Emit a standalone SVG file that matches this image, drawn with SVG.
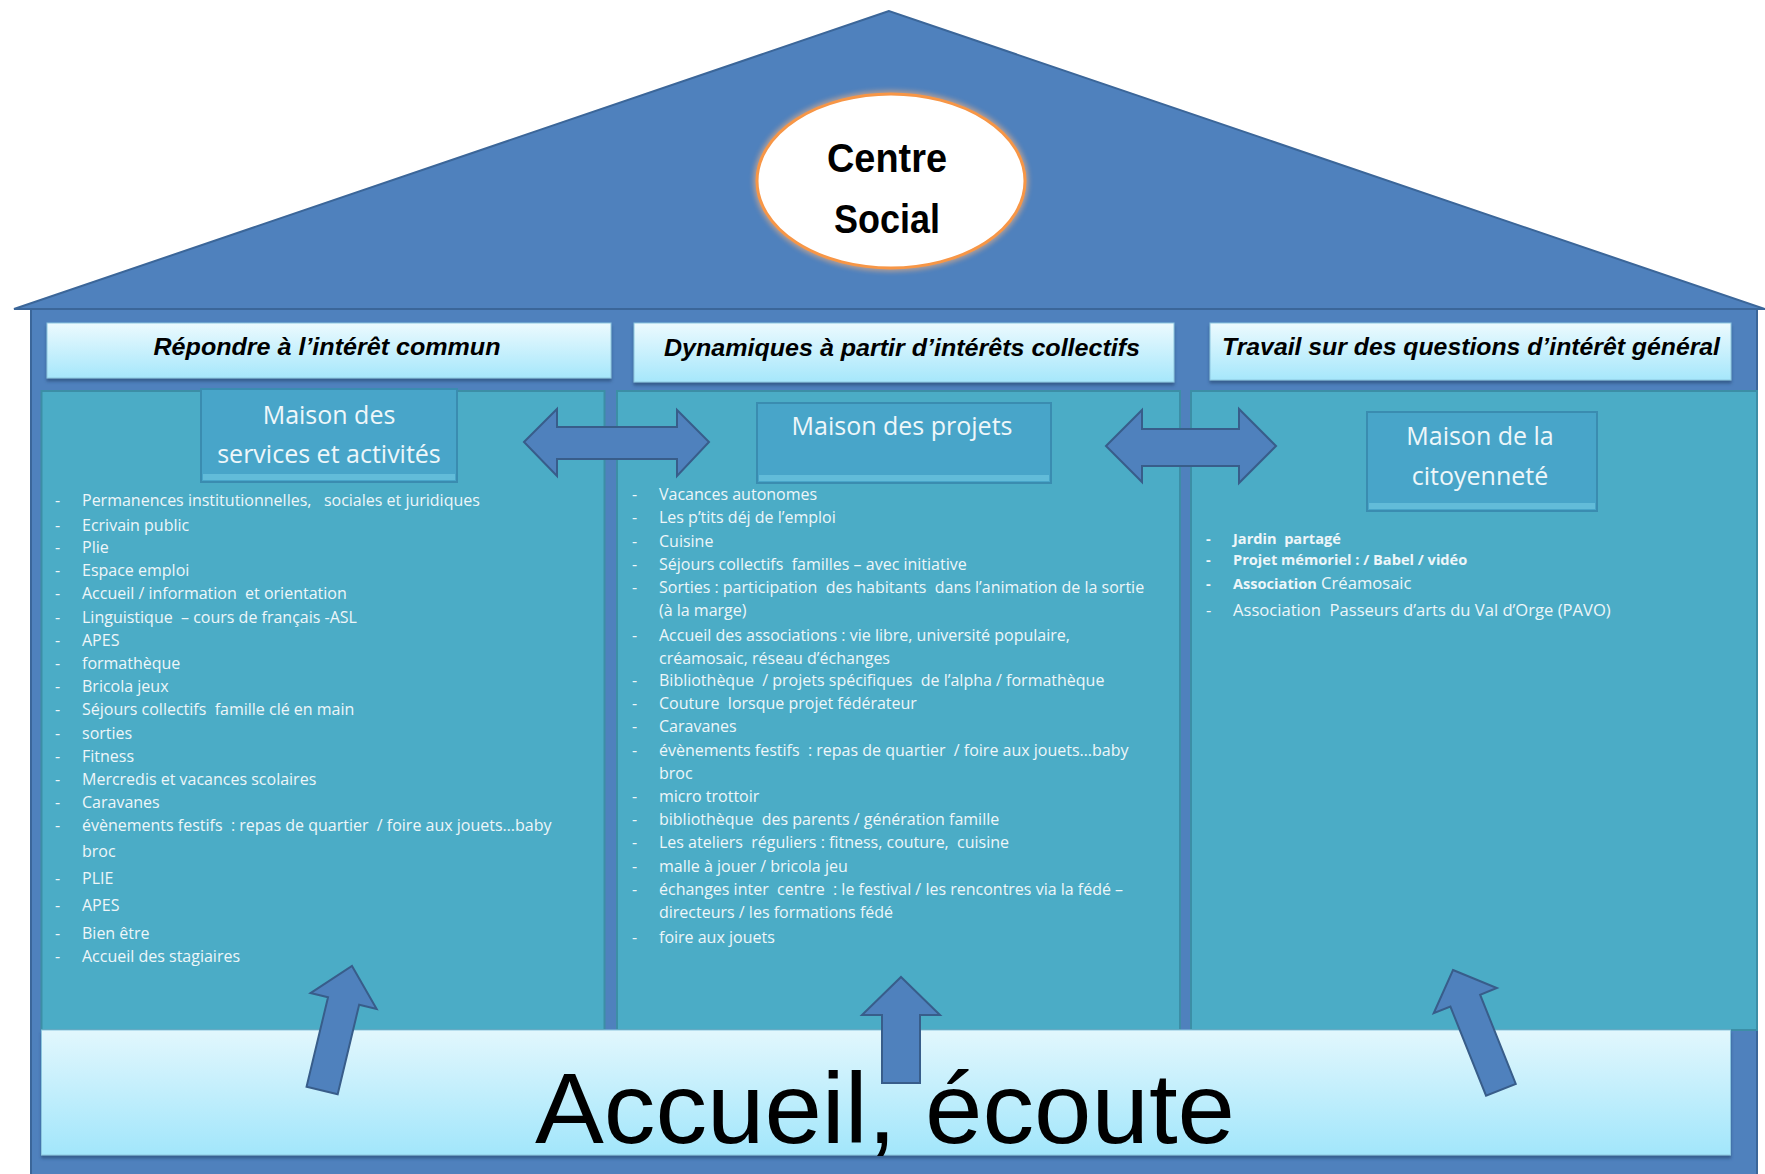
<svg xmlns="http://www.w3.org/2000/svg" width="1765" height="1174" viewBox="0 0 1765 1174">
<defs>
<linearGradient id="hdrGrad" x1="0" y1="0" x2="0" y2="1">
<stop offset="0" stop-color="#ecfafe"/>
<stop offset="1" stop-color="#a6e7fb"/>
</linearGradient>
<linearGradient id="botGrad" x1="0" y1="0" x2="0" y2="1">
<stop offset="0" stop-color="#e2f7fd"/>
<stop offset="1" stop-color="#a2e6fb"/>
</linearGradient>
<filter id="shadow" x="-5%" y="-20%" width="110%" height="150%">
<feDropShadow dx="0" dy="3" stdDeviation="1.5" flood-color="#2b4d78" flood-opacity="0.7"/>
</filter>
<filter id="glow" x="-20%" y="-20%" width="140%" height="140%">
<feGaussianBlur stdDeviation="2.5"/>
</filter>
</defs>
<style>
.blue{fill:#4F81BD;stroke:#3b6699;stroke-width:2}
.panel{fill:#4BACC6;stroke:#3c8ea6;stroke-width:2}
.hdr{fill:url(#hdrGrad);stroke:#8cc6df;stroke-width:1}
.maison{fill:#48a5c9;stroke:#3a8cb0;stroke-width:2}
.bevel{fill:#62bcd9}
.htxt{font-family:"Liberation Sans",Arial,sans-serif;font-weight:bold;font-style:italic;font-size:24px;fill:#000;text-anchor:middle}
.mtxt{font-family:"Open Sans","Noto Sans",sans-serif;font-size:25px;fill:#eef7fa;text-anchor:middle}
.li{font-family:"Open Sans","Noto Sans",sans-serif;font-size:16px;fill:#eef6f9}
.li2{font-family:"Open Sans","Noto Sans",sans-serif;font-size:16.6px;fill:#eef6f9}
.lb{font-family:"Open Sans","Noto Sans",sans-serif;font-size:14.6px;font-weight:bold;fill:#eef6f9}
.arrow{fill:#4F81BD;stroke:#385d8a;stroke-width:2;stroke-linejoin:miter}
</style>

<g id="house">
<polygon class="blue" points="889,11 14,309 1765,309"/>
<rect class="blue" x="31" y="309" width="1726" height="870"/>
</g>

<g id="centre-social">
<ellipse cx="891" cy="181" rx="134" ry="87" fill="none" stroke="#f9b47e" stroke-width="7" opacity="0.6" filter="url(#glow)"/>
<ellipse cx="891" cy="181" rx="134" ry="87" fill="#ffffff" stroke="#F79646" stroke-width="3"/>
<text x="887" y="172" font-family="Liberation Sans,Arial,sans-serif" font-weight="bold" font-size="40" text-anchor="middle" fill="#000" textLength="120" lengthAdjust="spacingAndGlyphs">Centre</text>
<text x="887" y="233" font-family="Liberation Sans,Arial,sans-serif" font-weight="bold" font-size="40" text-anchor="middle" fill="#000" textLength="106" lengthAdjust="spacingAndGlyphs">Social</text>
</g>

<g id="header-1">
<rect class="hdr" x="47" y="323" width="564" height="55" filter="url(#shadow)"/>
<text class="htxt" x="327" y="355" textLength="347" lengthAdjust="spacingAndGlyphs">Répondre à l’intérêt commun</text>
</g>
<g id="header-2">
<rect class="hdr" x="634" y="323" width="540" height="59" filter="url(#shadow)"/>
<text class="htxt" x="902" y="356" textLength="476" lengthAdjust="spacingAndGlyphs">Dynamiques à partir d’intérêts collectifs</text>
</g>
<g id="header-3">
<rect class="hdr" x="1210" y="323" width="521" height="57" filter="url(#shadow)"/>
<text class="htxt" x="1471" y="355" textLength="498" lengthAdjust="spacingAndGlyphs">Travail sur des questions d’intérêt général</text>
</g>

<g id="panel-1">
<rect class="panel" x="41.5" y="391" width="563" height="639"/>
</g>
<g id="panel-2">
<rect class="panel" x="617" y="391" width="563" height="639"/>
</g>
<g id="panel-3">
<rect class="panel" x="1191" y="391" width="566" height="639"/>
</g>

<g id="maison-services">
<rect class="maison" x="201" y="389" width="256" height="93"/>
<polygon class="bevel" points="203,474 455,474 455,480 203,480"/>
<text class="mtxt" x="329" y="424">Maison des</text>
<text class="mtxt" x="329" y="463">services et activités</text>
</g>
<g id="maison-projets">
<rect class="maison" x="757" y="403" width="294" height="80"/>
<polygon class="bevel" points="759,475 1049,475 1049,481 759,481"/>
<text class="mtxt" x="902" y="435">Maison des projets</text>
</g>
<g id="maison-citoyennete">
<rect class="maison" x="1367" y="412" width="230" height="99"/>
<polygon class="bevel" points="1369,503 1595,503 1595,509 1369,509"/>
<text class="mtxt" x="1480" y="445">Maison de la</text>
<text class="mtxt" x="1480" y="485">citoyenneté</text>
</g>

<g id="list-services" class="li">
<text x="55" y="506">-</text><text x="82" y="506">Permanences institutionnelles,&#160;&#160; sociales et juridiques</text>
<text x="55" y="531">-</text><text x="82" y="531">Ecrivain public</text>
<text x="55" y="553">-</text><text x="82" y="553">Plie</text>
<text x="55" y="576">-</text><text x="82" y="576">Espace emploi</text>
<text x="55" y="599">-</text><text x="82" y="599">Accueil / information&#160; et orientation</text>
<text x="55" y="623">-</text><text x="82" y="623">Linguistique&#160; – cours de français -ASL</text>
<text x="55" y="646">-</text><text x="82" y="646">APES</text>
<text x="55" y="669">-</text><text x="82" y="669">formathèque</text>
<text x="55" y="692">-</text><text x="82" y="692">Bricola jeux</text>
<text x="55" y="715">-</text><text x="82" y="715">Séjours collectifs&#160; famille clé en main</text>
<text x="55" y="739">-</text><text x="82" y="739">sorties</text>
<text x="55" y="762">-</text><text x="82" y="762">Fitness</text>
<text x="55" y="785">-</text><text x="82" y="785">Mercredis et vacances scolaires</text>
<text x="55" y="808">-</text><text x="82" y="808">Caravanes</text>
<text x="55" y="831">-</text><text x="82" y="831">évènements festifs&#160; : repas de quartier&#160; / foire aux jouets…baby</text>
<text x="82" y="857">broc</text>
<text x="55" y="884">-</text><text x="82" y="884">PLIE</text>
<text x="55" y="911">-</text><text x="82" y="911">APES</text>
<text x="55" y="939">-</text><text x="82" y="939">Bien être</text>
<text x="55" y="962">-</text><text x="82" y="962">Accueil des stagiaires</text>
</g>

<g id="list-projets" class="li">
<text x="632" y="500">-</text><text x="659" y="500">Vacances autonomes</text>
<text x="632" y="523">-</text><text x="659" y="523">Les p’tits déj de l’emploi</text>
<text x="632" y="547">-</text><text x="659" y="547">Cuisine</text>
<text x="632" y="570">-</text><text x="659" y="570">Séjours collectifs&#160; familles – avec initiative</text>
<text x="632" y="593">-</text><text x="659" y="593">Sorties : participation&#160; des habitants&#160; dans l’animation de la sortie</text>
<text x="659" y="616">(à la marge)</text>
<text x="632" y="641">-</text><text x="659" y="641">Accueil des associations : vie libre, université populaire,</text>
<text x="659" y="664">créamosaic, réseau d’échanges</text>
<text x="632" y="686">-</text><text x="659" y="686">Bibliothèque&#160; / projets spécifiques&#160; de l’alpha / formathèque</text>
<text x="632" y="709">-</text><text x="659" y="709">Couture&#160; lorsque projet fédérateur</text>
<text x="632" y="732">-</text><text x="659" y="732">Caravanes</text>
<text x="632" y="756">-</text><text x="659" y="756">évènements festifs&#160; : repas de quartier&#160; / foire aux jouets…baby</text>
<text x="659" y="779">broc</text>
<text x="632" y="802">-</text><text x="659" y="802">micro trottoir</text>
<text x="632" y="825">-</text><text x="659" y="825">bibliothèque&#160; des parents / génération famille</text>
<text x="632" y="848">-</text><text x="659" y="848">Les ateliers&#160; réguliers : fitness, couture,&#160; cuisine</text>
<text x="632" y="872">-</text><text x="659" y="872">malle à jouer / bricola jeu</text>
<text x="632" y="895">-</text><text x="659" y="895">échanges inter&#160; centre&#160; : le festival / les rencontres via la fédé –</text>
<text x="659" y="918">directeurs / les formations fédé</text>
<text x="632" y="943">-</text><text x="659" y="943">foire aux jouets</text>
</g>

<g id="list-citoyennete">
<text class="lb" x="1206" y="544">-</text><text class="lb" x="1233" y="544">Jardin&#160; partagé</text>
<text class="lb" x="1206" y="565">-</text><text class="lb" x="1233" y="565">Projet mémoriel : / Babel / vidéo</text>
<text class="lb" x="1206" y="589">-</text><text x="1233" y="589"><tspan class="lb">Association</tspan><tspan class="li2"> Créamosaic</tspan></text>
<text class="li2" x="1206" y="616">-</text><text class="li2" x="1233" y="616">Association&#160; Passeurs d’arts du Val d’Orge (PAVO)</text>
</g>

<g id="accueil-ecoute">
<rect x="41.5" y="1030" width="1689" height="125" fill="url(#botGrad)" stroke="#8cc6df" stroke-width="1" filter="url(#shadow)"/>
<text x="885" y="1143" font-family="Liberation Sans,Arial,sans-serif" font-size="100" text-anchor="middle" fill="#000" textLength="700" lengthAdjust="spacingAndGlyphs">Accueil, écoute</text>
</g>

<g id="connectors">
<path class="arrow" d="M524,442 L557,409 L557,427 L677,427 L677,410 L709,442 L677,476 L677,459 L557,459 L557,476 Z"/>
<path class="arrow" d="M1106,446 L1142,410 L1142,429 L1239,429 L1239,409 L1276,446 L1239,483 L1239,466 L1142,466 L1142,482 Z"/>
<path class="arrow" transform="translate(352,966) rotate(13.5)" d="M0,0 L34,36 L16,36 L16,128 L-16,128 L-16,36 L-34,36 Z"/>
<path class="arrow" d="M901,977 L940,1015 L920,1015 L920,1083 L882,1083 L882,1015 L862,1015 Z"/>
<path class="arrow" transform="translate(1453,970) rotate(-21.8)" d="M0,0 L34,33 L16,33 L16,129 L-16,129 L-16,33 L-34,33 Z"/>
</g>
</svg>
